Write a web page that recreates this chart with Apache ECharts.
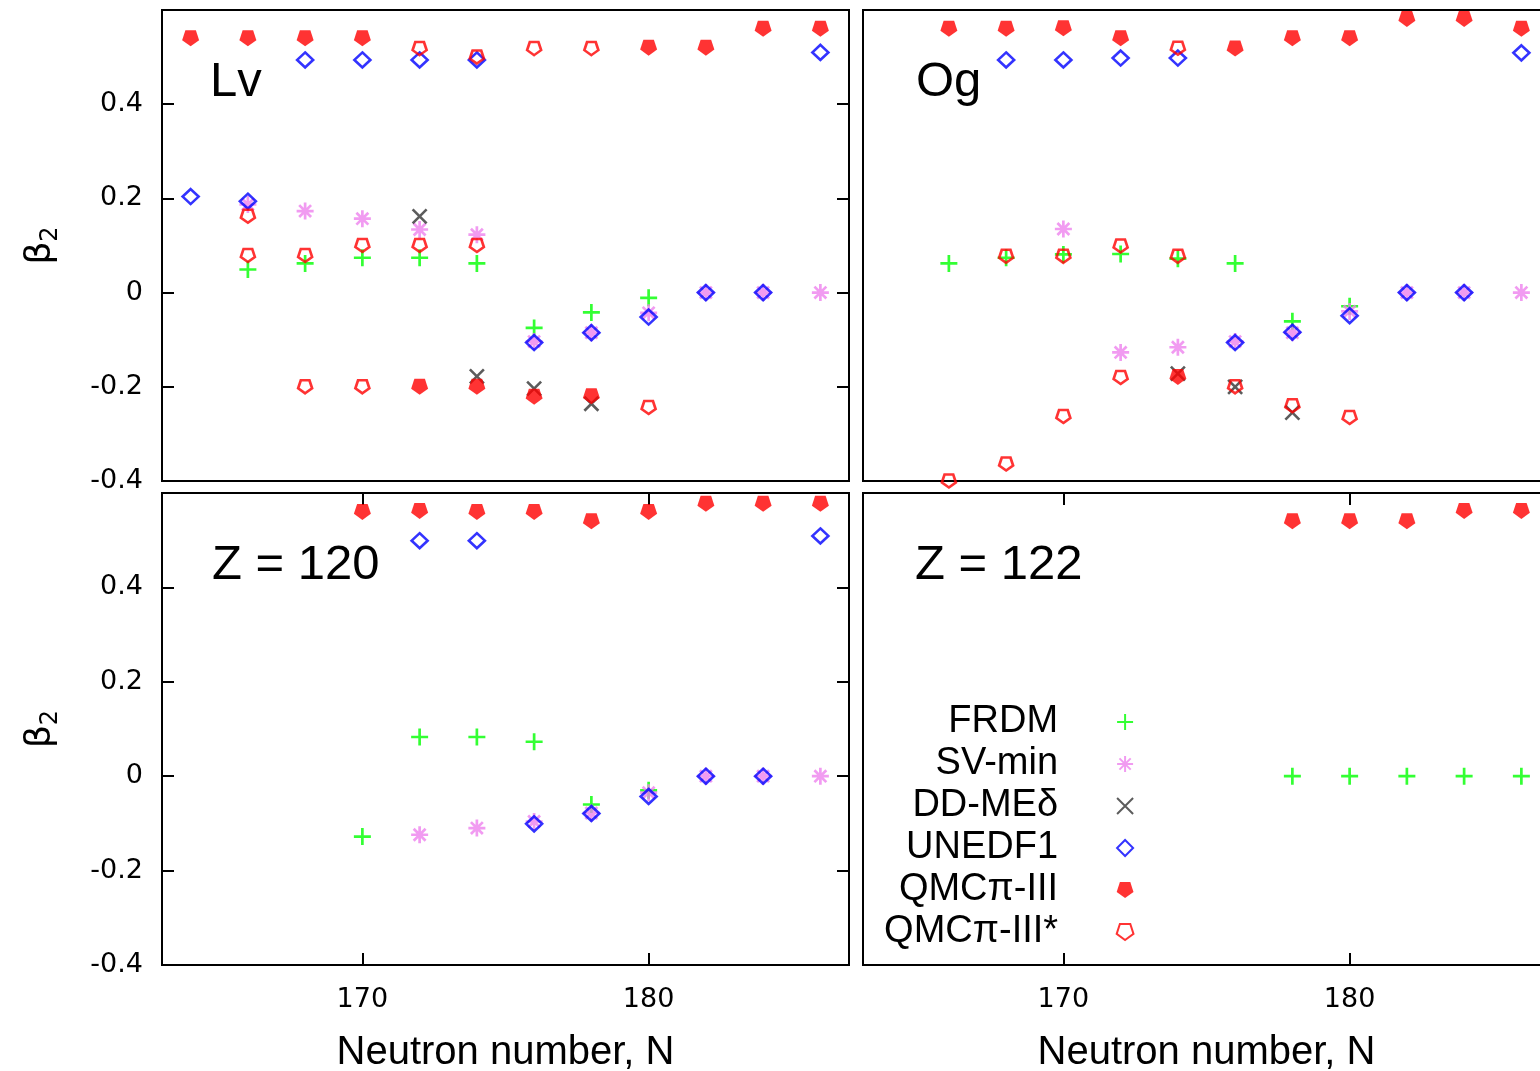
<!DOCTYPE html>
<html>
<head>
<meta charset="utf-8">
<script src="https://cdn.jsdelivr.net/npm/echarts@6/dist/echarts.min.js"></script>
<style>
  html, body { margin: 0; padding: 0; background: #fff; }
  #chart { width: 1540px; height: 1071px; }
</style>
</head>
<body>
<div id="chart"></div>
<script>
// Quadrupole deformation beta_2 versus neutron number N, four elements.
// Each array holds [N, beta2] pairs.

const MODELS = ['FRDM', 'SV-min', 'DD-MEδ', 'UNEDF1', 'QMCπ-III', 'QMCπ-III*'];
const PANEL_LABELS = ['Lv', 'Og', 'Z = 120', 'Z = 122'];
const X_TICKS = [170, 180];
const Y_LABEL_TICKS = [-0.4, -0.2, 0, 0.2, 0.4];
const Y_MARK_TICKS = [-0.2, 0, 0.2, 0.4];

// Lv (Z = 116)
const lvFRDM = [[166,0.049],[168,0.062],[170,0.074],[172,0.074],[174,0.062],[176,-0.075],[178,-0.042],[180,-0.011]];
const lvSVmin = [[166,0.187],[168,0.173],[170,0.157],[172,0.134],[174,0.123],[176,-0.104],[178,-0.085],[180,-0.043],[182,0],[184,0],[186,0]];
const lvDDME = [[172,0.162],[174,-0.178],[176,-0.204],[178,-0.236]];
const lvUNEDF1 = [[164,0.204],[166,0.194],[168,0.494],[170,0.494],[172,0.494],[174,0.494],[176,-0.106],[178,-0.085],[180,-0.052],[182,0],[184,0],[186,0.51]];
const lvQMC = [[164,0.54],[166,0.54],[168,0.54],[170,0.54],[172,-0.2],[174,-0.2],[176,-0.221],[178,-0.22],[180,0.52],[182,0.52],[184,0.56],[186,0.56]];
const lvQMCstar = [[166,0.162],[166,0.079],[168,0.079],[168,-0.2],[170,0.1],[170,-0.2],[172,0.518],[172,0.1],[174,0.5],[174,0.1],[176,0.518],[178,0.518],[180,-0.244]];

// Og (Z = 118)
const ogFRDM = [[166,0.062],[168,0.074],[170,0.081],[172,0.082],[174,0.072],[176,0.062],[178,-0.061],[180,-0.029]];
const ogSVmin = [[170,0.135],[172,-0.127],[174,-0.116],[176,-0.104],[178,-0.085],[180,-0.04],[182,0],[184,0],[186,0]];
const ogDDME = [[174,-0.172],[176,-0.2],[178,-0.255]];
const ogUNEDF1 = [[168,0.494],[170,0.494],[172,0.498],[174,0.498],[176,-0.106],[178,-0.084],[180,-0.049],[182,0],[184,0],[186,0.509]];
const ogQMC = [[166,0.56],[168,0.56],[170,0.561],[172,0.54],[174,-0.179],[176,0.518],[178,0.54],[180,0.54],[182,0.581],[184,0.581],[186,0.56]];
const ogQMCstar = [[166,-0.4],[168,-0.364],[168,0.077],[170,-0.263],[170,0.077],[172,-0.18],[172,0.099],[174,0.519],[174,0.077],[176,-0.2],[178,-0.24],[180,-0.265]];

// Z = 120
const z120FRDM = [[170,-0.128],[172,0.083],[174,0.083],[176,0.073],[178,-0.06],[180,-0.03]];
const z120SVmin = [[172,-0.124],[174,-0.11],[176,-0.096],[178,-0.078],[180,-0.035],[182,0],[184,0],[186,0]];
const z120DDME = [];
const z120UNEDF1 = [[172,0.499],[174,0.499],[176,-0.101],[178,-0.079],[180,-0.043],[182,0],[184,0],[186,0.509]];
const z120QMC = [[170,0.56],[172,0.562],[174,0.56],[176,0.56],[178,0.54],[180,0.56],[182,0.577],[184,0.577],[186,0.577]];
const z120QMCstar = [];

// Z = 122
const z122FRDM = [[178,0],[180,0],[182,0],[184,0],[186,0]];
const z122SVmin = [];
const z122DDME = [];
const z122UNEDF1 = [];
const z122QMC = [[178,0.54],[180,0.54],[182,0.54],[184,0.562],[186,0.562]];
const z122QMCstar = [];

const PANEL_DATA = [
  [lvFRDM, lvSVmin, lvDDME, lvUNEDF1, lvQMC, lvQMCstar],
  [ogFRDM, ogSVmin, ogDDME, ogUNEDF1, ogQMC, ogQMCstar],
  [z120FRDM, z120SVmin, z120DDME, z120UNEDF1, z120QMC, z120QMCstar],
  [z122FRDM, z122SVmin, z122DDME, z122UNEDF1, z122QMC, z122QMCstar]
];

// ---- marker styles ----
const P_PLUS = 'path://M0,-1L0,1M-1,0L1,0';
const P_CROSS = 'path://M-1,-1L1,1M-1,1L1,-1';
const P_STAR = 'path://M0,-1L0,1M-1,0L1,0M-0.7,-0.7L0.7,0.7M-0.7,0.7L0.7,-0.7';
const P_DIAMOND = 'path://M0,-1L1,0L0,1L-1,0Z';
const P_PENT = 'path://M0,1L0.951,0.309L0.588,-0.809L-0.588,-0.809L-0.951,0.309Z';

const MARKERS = [
  { symbol: P_PLUS, size: 17, itemStyle: { color: 'none', borderColor: '#00ff00', borderWidth: 2.7 } },
  { symbol: P_STAR, size: 17, itemStyle: { color: 'none', borderColor: '#ee82ee', borderWidth: 2.7 } },
  { symbol: P_CROSS, size: 14, itemStyle: { color: 'none', borderColor: '#333333', borderWidth: 2.6 } },
  { symbol: P_DIAMOND, size: [16, 15], itemStyle: { color: 'none', borderColor: '#0000ff', borderWidth: 2.6 } },
  { symbol: P_PENT, size: [17, 16], itemStyle: { color: '#ff0000', borderWidth: 0 } },
  { symbol: P_PENT, size: [14, 13], itemStyle: { color: 'none', borderColor: '#ff0000', borderWidth: 2.6 } }
];

// ---- layout ----
const GRIDS = [
  { left: 162, top: 10, width: 687, height: 471 },
  { left: 863, top: 10, width: 687, height: 471 },
  { left: 162, top: 493, width: 687, height: 472 },
  { left: 863, top: 493, width: 687, height: 472 }
];
const LABEL_POS = [[210, 82], [916, 82], [212, 565], [915, 565]];

const TICK_FONT = { fontFamily: 'DejaVu Sans', fontSize: 27, color: '#000' };
const tickLine = { color: '#000', width: 2 };
const X_RANGE = { min: 163, max: 187 };
const Y_RANGE = { min: -0.4, max: 0.6 };

const xAxes = [];
const yAxes = [];
GRIDS.forEach((g, i) => {
  const isBottom = i >= 2;
  xAxes.push(Object.assign({
    type: 'value', gridIndex: i, position: 'bottom',
    axisLine: { show: false, onZero: false },
    splitLine: { show: false },
    axisTick: { show: isBottom, inside: true, length: 12, customValues: X_TICKS, lineStyle: tickLine },
    axisLabel: { show: isBottom, customValues: X_TICKS, margin: 21, ...TICK_FONT },
    name: isBottom ? 'Neutron number, N' : '',
    nameLocation: 'middle',
    nameGap: 68,
    nameTextStyle: { fontFamily: 'Liberation Sans', fontSize: 40, color: '#000' }
  }, X_RANGE));
  const isLeft = i % 2 === 0;
  yAxes.push(Object.assign({
    type: 'value', gridIndex: i, position: 'left',
    axisLine: { show: false, onZero: false },
    splitLine: { show: false },
    axisTick: { show: isLeft, inside: true, length: 12, customValues: Y_MARK_TICKS, lineStyle: tickLine },
    axisLabel: {
      show: isLeft, customValues: Y_LABEL_TICKS, margin: 19, ...TICK_FONT,
      formatter: v => (Math.abs(v) < 1e-9 ? '0' : v.toFixed(1))
    },
    name: isLeft ? '{b|β}{s|2}' : '',
    nameLocation: 'middle',
    nameRotate: 90,
    nameGap: 103,
    nameTextStyle: {
      rich: {
        b: { fontFamily: 'DejaVu Sans', fontSize: 36, color: '#000' },
        s: { fontFamily: 'DejaVu Sans', fontSize: 24, color: '#000', verticalAlign: 'bottom', padding: [0, 0, -4, 0] }
      }
    }
  }, Y_RANGE));
});
// mirrored ticks: top edge of the lower panels, right edge of the left panels
[2, 3].forEach(i => {
  xAxes.push(Object.assign({
    type: 'value', gridIndex: i, position: 'top',
    axisLine: { show: false, onZero: false }, splitLine: { show: false }, axisLabel: { show: false },
    axisTick: { show: true, inside: true, length: 12, customValues: X_TICKS, lineStyle: tickLine }
  }, X_RANGE));
});
[0, 2].forEach(i => {
  yAxes.push(Object.assign({
    type: 'value', gridIndex: i, position: 'right',
    axisLine: { show: false, onZero: false }, splitLine: { show: false }, axisLabel: { show: false },
    axisTick: { show: true, inside: true, length: 12, customValues: Y_MARK_TICKS, lineStyle: tickLine }
  }, Y_RANGE));
});

const series = [];
PANEL_DATA.forEach((sets, p) => {
  sets.forEach((data, m) => {
    const mk = MARKERS[m];
    series.push({
      type: 'scatter',
      name: MODELS[m],
      xAxisIndex: p,
      yAxisIndex: p,
      data: data,
      symbol: mk.symbol,
      symbolSize: mk.size,
      itemStyle: mk.itemStyle,
      emphasis: { disabled: true },
      z: 2 + m * 0.01
    });
  });
});

const graphic = PANEL_LABELS.map((t, i) => ({
  type: 'text',
  x: LABEL_POS[i][0],
  y: LABEL_POS[i][1],
  z: 10,
  style: { text: t, fontFamily: 'Liberation Sans', fontSize: 49, fill: '#000', verticalAlign: 'middle' }
}));

const chart = echarts.init(document.getElementById('chart'), null, { renderer: 'canvas' });
chart.setOption({
  animation: false,
  backgroundColor: '#fff',
  grid: GRIDS.map(g => Object.assign({
    show: true, borderColor: '#000', borderWidth: 2, backgroundColor: 'transparent',
    containLabel: false, outerBoundsMode: 'none'
  }, g)),
  xAxis: xAxes,
  yAxis: yAxes,
  legend: {
    data: MODELS,
    orient: 'vertical',
    align: 'right',
    right: 404,
    top: 701,
    padding: 0,
    itemGap: 0,
    itemWidth: 124,
    itemHeight: 16,
    selectedMode: false,
    textStyle: { fontFamily: 'Liberation Sans', fontSize: 38, color: '#000', lineHeight: 42 }
  },
  graphic: graphic,
  series: series
});
</script>
</body>
</html>
